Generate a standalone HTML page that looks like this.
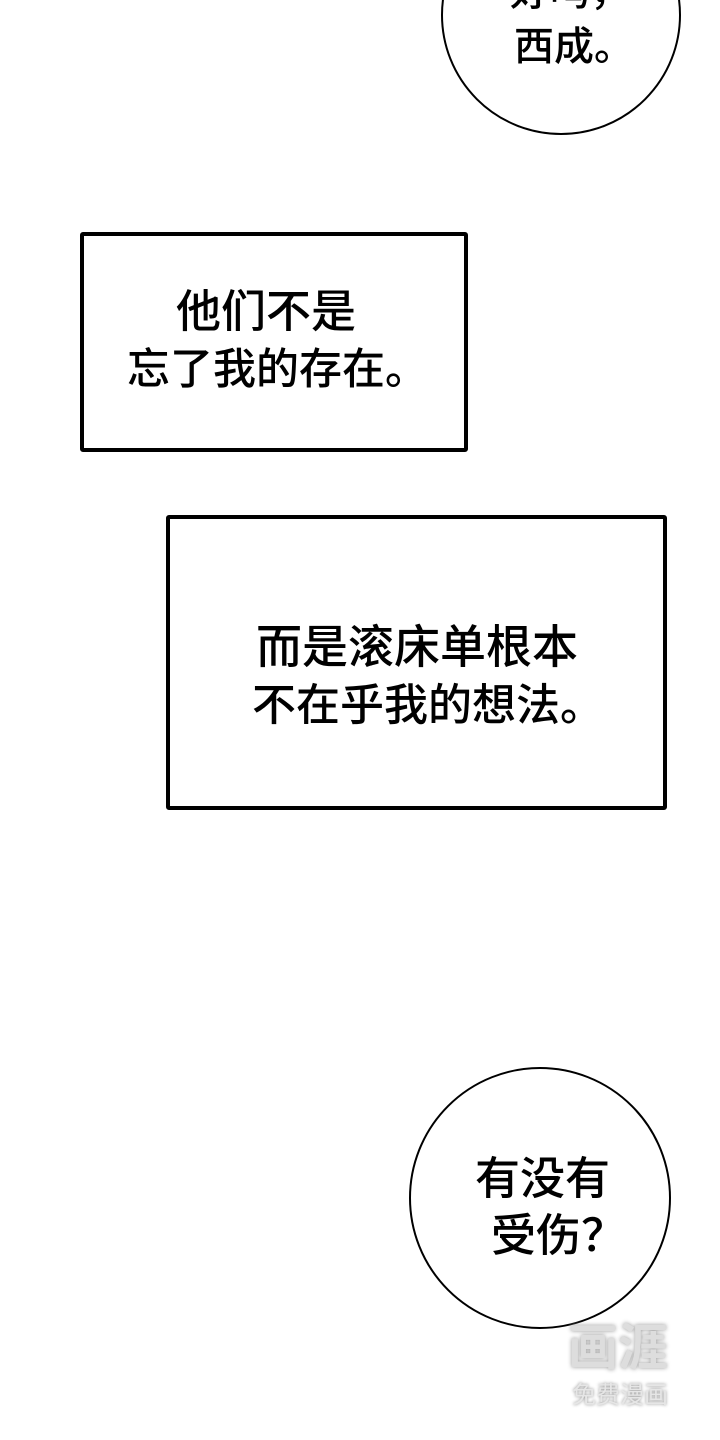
<!DOCTYPE html>
<html><head><meta charset="utf-8"><style>
body{margin:0;width:720px;height:1440px;background:#fff;position:relative;overflow:hidden;font-family:"Liberation Sans","Noto Sans CJK SC",sans-serif;color:#000}
.t{position:absolute;white-space:nowrap;font-size:45px;line-height:45px;font-weight:500}
.circ{position:absolute;border:2px solid #000;border-radius:50%;box-sizing:border-box;background:#fff}
.box{position:absolute;border:4px solid #000;box-sizing:border-box;border-radius:3px}
</style></head><body>
<div class="circ" style="left:441px;top:-105px;width:240px;height:240px"></div>
<div class="t" style="left:510px;top:-30px;font-size:40px">好吗，</div>
<div class="t" style="left:514px;top:27px;font-size:40px;line-height:40px">西成。</div>

<div class="box" style="left:80px;top:232px;width:388px;height:220px"></div>
<div class="t" style="left:176px;top:289px">他们不是</div>
<div class="t" style="left:127px;top:348px;font-size:43px">忘了我的存在。</div>

<div class="box" style="left:166px;top:515px;width:501px;height:295px"></div>
<div class="t" style="left:256px;top:624px;font-size:46px;line-height:46px">而是滚床单根本</div>
<div class="t" style="left:252px;top:684px;font-size:44px;line-height:44px">不在乎我的想法。</div>

<div class="circ" style="left:409px;top:1067px;width:262px;height:262px"></div>
<div class="t" style="left:475px;top:1156px;font-size:45px;line-height:45px">有没有</div>
<div class="t" style="left:491px;top:1213px;font-size:45px;line-height:45px">受伤？</div>

<div style="position:absolute;left:568px;top:1322px;width:116px;height:52px;color:#ddd;font-size:50px;line-height:52px;font-weight:bold;text-shadow:0 0 4px #999">画涯</div>
<div style="position:absolute;left:572px;top:1382px;color:#e6e6e6;font-size:24px;line-height:28px;text-shadow:0 0 3px #888">免费漫画</div>
</body></html>
